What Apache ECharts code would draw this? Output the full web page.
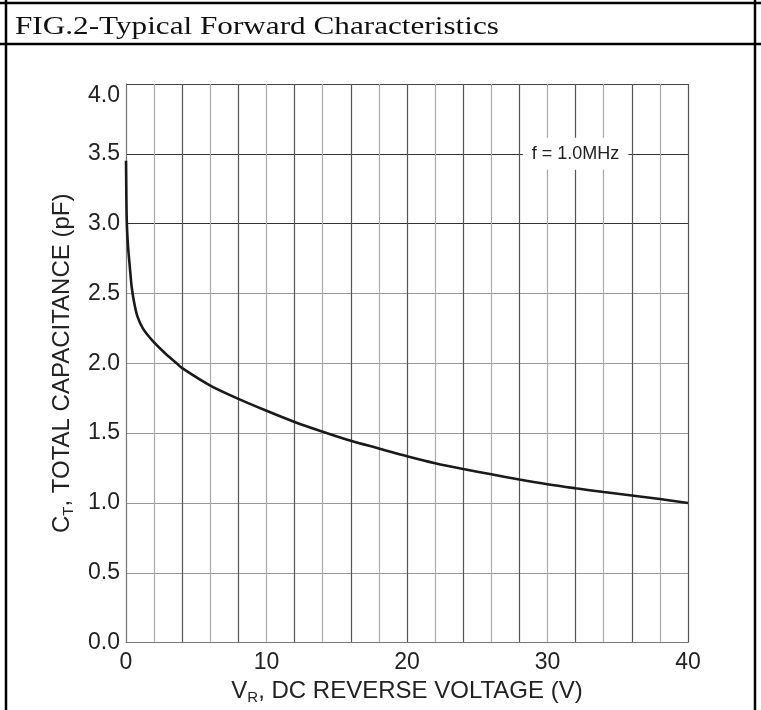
<!DOCTYPE html>
<html>
<head>
<meta charset="utf-8">
<script src="https://cdn.jsdelivr.net/npm/echarts@6/dist/echarts.min.js"></script>
<style>
  html, body { margin: 0; padding: 0; background: #fff; }
  #chart { width: 761px; height: 710px; }
</style>
</head>
<body>
<div id="chart"></div>
<script>
// ---- data ----
const titleText = 'FIG.2-Typical Forward Characteristics';
const reverseVoltage = [0, 0.02, 0.04, 0.08, 0.15, 0.28, 0.4, 0.57, 0.8, 1.2, 1.9, 2.8, 3.6, 4, 6, 8, 10, 12, 14, 16, 18, 20, 22, 24, 26, 28, 30, 32, 34, 36, 38, 40];
const capacitance   = [3.45, 3.25, 3.08, 2.95, 2.83, 2.68, 2.55, 2.44, 2.34, 2.25, 2.16, 2.07, 2.0, 1.965, 1.84, 1.745, 1.66, 1.58, 1.51, 1.445, 1.39, 1.335, 1.285, 1.243, 1.205, 1.168, 1.134, 1.105, 1.078, 1.053, 1.028, 1.0];
const xTickLabels = [0, 10, 20, 30, 40];
const yTickLabels = ['0.0', '0.5', '1.0', '1.5', '2.0', '2.5', '3.0', '3.5', '4.0'];
const noteText = 'f = 1.0MHz';
const notePos = [32, 3.5];

const sans = 'Liberation Sans, Arial, Helvetica, sans-serif';
const serif = '"Liberation Serif", "Times New Roman", serif';

const chart = echarts.init(document.getElementById('chart'), null, { renderer: 'canvas' });

const seriesData = reverseVoltage.map((v, i) => [v, capacitance[i]]);

const nameRich = {
  m: { fontFamily: sans, fontSize: 24, color: '#222', lineHeight: 27 },
  s: { fontFamily: sans, fontSize: 15, color: '#222', lineHeight: 12, verticalAlign: 'bottom' }
};

const option = {
  backgroundColor: '#fff',
  animation: false,
  grid: { left: 126, right: 73, top: 84, bottom: 64, containLabel: false },
  xAxis: {
    type: 'value',
    min: 0, max: 40, interval: 2,
    name: '{m|V}{s|R}{m|, DC REVERSE VOLTAGE (V)}',
    nameLocation: 'middle',
    nameGap: 30,
    nameTextStyle: { rich: nameRich },
    axisLine: { show: true, lineStyle: { color: '#777', width: 1 } },
    axisTick: { show: false },
    axisLabel: {
      margin: 9,
      fontFamily: sans, fontSize: 23, color: '#222',
      formatter: v => (xTickLabels.indexOf(v) >= 0 ? String(v) : '')
    },
    splitLine: { show: true, lineStyle: { color: ['#555', '#aaa'], width: 1.2 } }
  },
  yAxis: {
    type: 'value',
    min: 0, max: 4, interval: 0.5,
    name: '{m|C}{s|T}{m|, TOTAL CAPACITANCE (pF)}',
    nameLocation: 'middle',
    nameGap: 50,
    nameTextStyle: { rich: nameRich },
    axisLine: { show: true, lineStyle: { color: '#777', width: 1 } },
    axisTick: { show: false },
    axisLabel: {
      margin: 6,
      fontFamily: sans, fontSize: 23, color: '#222',
      verticalAlignMaxLabel: 'top',
      formatter: v => yTickLabels[Math.round(v / 0.5)]
    },
    splitLine: {
      show: true,
      lineStyle: { color: ['#999', '#999', '#999', '#999', '#999', '#999', '#333', '#333', '#444'], width: 1.2 }
    }
  },
  series: [{
    type: 'line',
    data: seriesData,
    showSymbol: false,
    symbol: 'none',
    smooth: 0.3,
    lineStyle: { color: '#1a1a1a', width: 2.6 },
    markPoint: {
      symbol: 'rect',
      symbolSize: 0,
      silent: true,
      data: [{ coord: notePos }],
      label: {
        show: true,
        position: 'inside',
        formatter: noteText,
        backgroundColor: '#fff',
        padding: [7, 9],
        fontFamily: sans, fontSize: 18, color: '#222'
      }
    }
  }],
  graphic: [
    { type: 'line', shape: { x1: 0, y1: 3, x2: 761, y2: 3 }, style: { stroke: '#000', lineWidth: 2.5 } },
    { type: 'line', shape: { x1: 0, y1: 44, x2: 761, y2: 44 }, style: { stroke: '#000', lineWidth: 2.5 } },
    { type: 'line', shape: { x1: 6, y1: 0, x2: 6, y2: 710 }, style: { stroke: '#000', lineWidth: 2.5 } },
    { type: 'line', shape: { x1: 755, y1: 0, x2: 755, y2: 710 }, style: { stroke: '#000', lineWidth: 2.5 } },
    {
      type: 'text',
      x: 15, y: 27,
      scaleX: 1.2, scaleY: 1,
      style: {
        text: titleText,
        x: 0, y: 0,
        font: '26px ' + serif,
        fill: '#111',
        align: 'left',
        verticalAlign: 'middle'
      }
    }
  ]
};

chart.setOption(option);
</script>
</body>
</html>
